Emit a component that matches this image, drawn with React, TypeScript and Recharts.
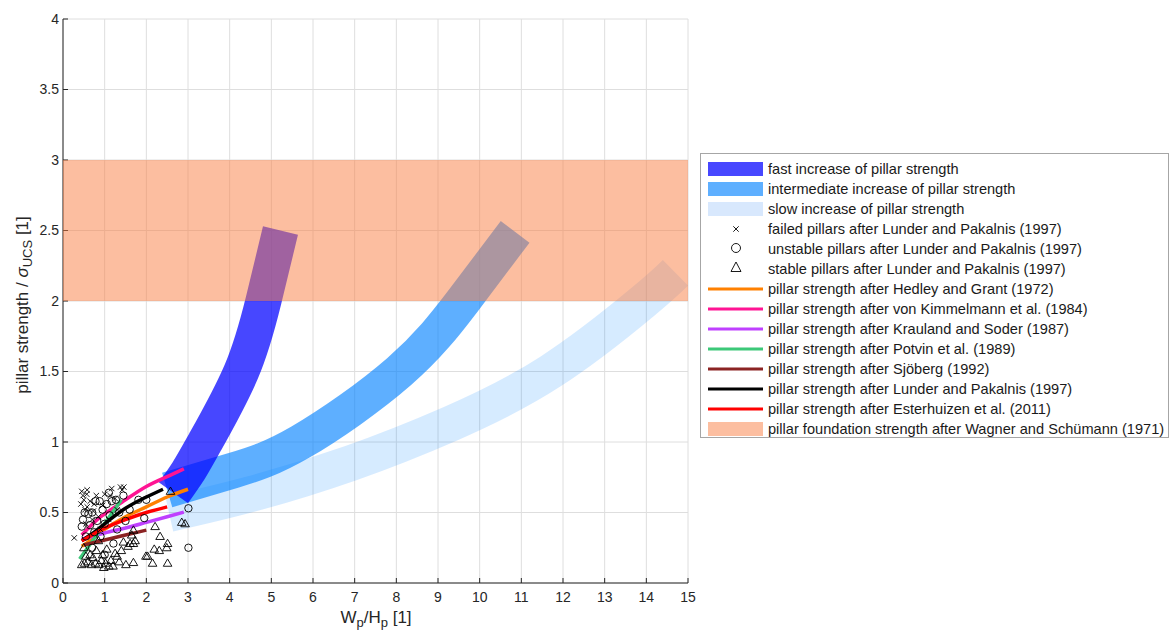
import {
  ComposedChart,
  Line,
  Scatter,
  XAxis,
  YAxis,
  CartesianGrid,
  ReferenceArea,
} from "recharts";

type Pt = { x: number; y: number };

const FONT = "'Liberation Sans', Arial, Helvetica, sans-serif";
const AX = "#262626";

const xTicks = [0, 1, 2, 3, 4, 5, 6, 7, 8, 9, 10, 11, 12, 13, 14, 15];
const yTicks = [0, 0.5, 1, 1.5, 2, 2.5, 3, 3.5, 4];

// wide bands (centre lines)
const fastBand: Pt[] = [
  { x: 2.65, y: 0.64 }, { x: 3.0, y: 0.79 }, { x: 3.41, y: 1.0 },
  { x: 4.28, y: 1.5 }, { x: 4.81, y: 2.0 }, { x: 5.22, y: 2.5 },
];
const midBand: Pt[] = [
  { x: 2.5, y: 0.66 }, { x: 4.1, y: 0.8 }, { x: 5.7, y: 1.0 },
  { x: 8.07, y: 1.5 }, { x: 9.6, y: 2.0 }, { x: 10.85, y: 2.49 },
];
const slowBand: Pt[] = [
  { x: 2.55, y: 0.49 }, { x: 4.5, y: 0.63 }, { x: 6.9, y: 0.85 }, { x: 9.3, y: 1.13 },
  { x: 11.7, y: 1.5 }, { x: 13.9, y: 1.99 }, { x: 14.7, y: 2.2 },
];

// empirical pillar strength formulas
const hedleyGrant: Pt[] = [
  { x: 0.45, y: 0.26 }, { x: 0.75, y: 0.32 }, { x: 1.0, y: 0.38 }, { x: 1.5, y: 0.47 },
  { x: 2.0, y: 0.54 }, { x: 2.5, y: 0.61 }, { x: 3.0, y: 0.665 },
];
const kimmelmann: Pt[] = [
  { x: 0.45, y: 0.34 }, { x: 0.75, y: 0.43 }, { x: 1.0, y: 0.49 }, { x: 1.5, y: 0.59 },
  { x: 2.0, y: 0.685 }, { x: 2.5, y: 0.755 }, { x: 2.9, y: 0.81 },
];
const krauland: Pt[] = [
  { x: 0.45, y: 0.31 }, { x: 1.0, y: 0.355 }, { x: 1.5, y: 0.39 }, { x: 2.0, y: 0.43 },
  { x: 2.5, y: 0.47 }, { x: 2.9, y: 0.503 },
];
const potvin: Pt[] = [{ x: 0.4, y: 0.17 }, { x: 0.9, y: 0.38 }, { x: 1.4, y: 0.59 }];
const sjoberg: Pt[] = [
  { x: 0.5, y: 0.27 }, { x: 1.0, y: 0.305 }, { x: 1.5, y: 0.34 }, { x: 2.0, y: 0.375 },
];
const lunder: Pt[] = [
  { x: 0.45, y: 0.3 }, { x: 0.75, y: 0.36 }, { x: 1.0, y: 0.42 }, { x: 1.5, y: 0.53 },
  { x: 2.0, y: 0.61 }, { x: 2.4, y: 0.665 },
];
const esterhuizen: Pt[] = [
  { x: 0.45, y: 0.3 }, { x: 0.75, y: 0.35 }, { x: 1.0, y: 0.39 }, { x: 1.5, y: 0.45 },
  { x: 2.0, y: 0.5 }, { x: 2.5, y: 0.54 },
];

// Lunder and Pakalnis (1997) case histories
const failed: Pt[] = [
  { x: 0.45, y: 0.65 }, { x: 0.58, y: 0.66 }, { x: 0.48, y: 0.62 }, { x: 0.57, y: 0.63 },
  { x: 0.43, y: 0.56 }, { x: 0.5, y: 0.59 }, { x: 0.58, y: 0.54 }, { x: 0.53, y: 0.52 },
  { x: 0.65, y: 0.58 }, { x: 0.73, y: 0.51 }, { x: 1.13, y: 0.62 }, { x: 1.17, y: 0.67 },
  { x: 1.38, y: 0.68 }, { x: 1.46, y: 0.68 }, { x: 1.42, y: 0.66 }, { x: 0.27, y: 0.32 },
  { x: 0.85, y: 0.47 }, { x: 0.95, y: 0.55 }, { x: 1.25, y: 0.6 }, { x: 0.7, y: 0.45 },
  { x: 0.9, y: 0.38 }, { x: 0.8, y: 0.62 }, { x: 1.0, y: 0.63 }, { x: 1.3, y: 0.52 },
  { x: 0.75, y: 0.56 }, { x: 1.1, y: 0.45 }, { x: 0.55, y: 0.42 },
];
const unstable: Pt[] = [
  { x: 0.78, y: 0.58 }, { x: 0.88, y: 0.58 }, { x: 0.61, y: 0.49 }, { x: 0.45, y: 0.4 },
  { x: 0.48, y: 0.45 }, { x: 1.17, y: 0.58 }, { x: 1.27, y: 0.59 }, { x: 1.95, y: 0.46 },
  { x: 3.01, y: 0.53 }, { x: 3.01, y: 0.25 }, { x: 1.21, y: 0.28 }, { x: 1.81, y: 0.59 },
  { x: 2.0, y: 0.59 }, { x: 0.7, y: 0.5 }, { x: 0.95, y: 0.52 }, { x: 1.05, y: 0.56 },
  { x: 0.65, y: 0.41 }, { x: 0.82, y: 0.44 }, { x: 1.0, y: 0.42 }, { x: 1.12, y: 0.48 },
  { x: 1.35, y: 0.5 }, { x: 1.5, y: 0.44 }, { x: 0.9, y: 0.33 }, { x: 0.75, y: 0.36 },
  { x: 1.3, y: 0.38 }, { x: 1.6, y: 0.52 }, { x: 0.55, y: 0.33 }, { x: 1.0, y: 0.2 },
  { x: 0.7, y: 0.25 }, { x: 1.45, y: 0.62 }, { x: 1.1, y: 0.64 }, { x: 0.52, y: 0.5 },
];
const stable: Pt[] = [
  { x: 2.21, y: 0.4 }, { x: 2.33, y: 0.33 }, { x: 2.51, y: 0.28 }, { x: 2.49, y: 0.25 },
  { x: 2.19, y: 0.24 }, { x: 2.31, y: 0.23 }, { x: 1.99, y: 0.19 }, { x: 2.15, y: 0.14 },
  { x: 2.51, y: 0.14 }, { x: 1.51, y: 0.13 }, { x: 1.69, y: 0.145 }, { x: 2.85, y: 0.43 },
  { x: 2.93, y: 0.42 }, { x: 2.58, y: 0.65 }, { x: 1.69, y: 0.28 }, { x: 1.45, y: 0.29 },
  { x: 1.25, y: 0.21 }, { x: 1.3, y: 0.19 }, { x: 1.02, y: 0.14 }, { x: 1.1, y: 0.12 },
  { x: 0.45, y: 0.13 }, { x: 0.52, y: 0.14 }, { x: 0.6, y: 0.15 }, { x: 0.68, y: 0.13 },
  { x: 0.78, y: 0.14 }, { x: 0.86, y: 0.13 }, { x: 0.55, y: 0.19 }, { x: 0.65, y: 0.2 },
  { x: 0.8, y: 0.23 }, { x: 0.72, y: 0.18 }, { x: 0.95, y: 0.2 }, { x: 1.05, y: 0.24 },
  { x: 0.92, y: 0.16 }, { x: 1.15, y: 0.16 }, { x: 1.69, y: 0.375 }, { x: 1.65, y: 0.34 },
  { x: 1.73, y: 0.3 }, { x: 1.56, y: 0.26 }, { x: 1.61, y: 0.28 }, { x: 1.4, y: 0.23 },
  { x: 0.5, y: 0.25 }, { x: 0.85, y: 0.3 }, { x: 1.2, y: 0.12 }, { x: 1.35, y: 0.15 },
  { x: 0.98, y: 0.11 }, { x: 2.03, y: 0.19 },
];

const BAND_W = 36;

const CrossShape = (p: any) => {
  const { cx, cy } = p;
  const s = 2.7;
  return (
    <path
      d={`M${cx - s},${cy - s}L${cx + s},${cy + s}M${cx - s},${cy + s}L${cx + s},${cy - s}`}
      stroke="#000"
      strokeWidth={0.9}
      fill="none"
    />
  );
};
const CircleShape = (p: any) => (
  <circle cx={p.cx} cy={p.cy} r={3.7} stroke="#000" strokeWidth={0.9} fill="none" />
);
const TriShape = (p: any) => {
  const { cx, cy } = p;
  return (
    <path
      d={`M${cx},${cy - 4.3}L${cx + 4.3},${cy + 3}L${cx - 4.3},${cy + 3}Z`}
      stroke="#000"
      strokeWidth={0.9}
      fill="none"
    />
  );
};

const YTitle = () => (
  <text
    transform="rotate(-90)"
    x={-305}
    y={28}
    textAnchor="middle"
    fontSize={17}
    fill={AX}
    fontFamily={FONT}
  >
    pillar strength /{" "}
    <tspan fontStyle="italic">σ</tspan>
    <tspan dy={4} fontSize={13}>UCS</tspan>
    <tspan dy={-4}> [1]</tspan>
  </text>
);

const XTitle = () => (
  <text x={376} y={623} textAnchor="middle" fontSize={17} fill={AX} fontFamily={FONT}>
    W<tspan dy={4} fontSize={13}>p</tspan>
    <tspan dy={-4}>/H</tspan>
    <tspan dy={4} fontSize={13}>p</tspan>
    <tspan dy={-4}> [1]</tspan>
  </text>
);

type LegendItem = { label: string; kind: "patch" | "line" | "x" | "o" | "tri"; color: string };

const legendItems: LegendItem[] = [
  { label: "fast increase of pillar strength", kind: "patch", color: "#4747ff" },
  { label: "intermediate increase of pillar strength", kind: "patch", color: "#5eafff" },
  { label: "slow increase of pillar strength", kind: "patch", color: "#d8e8fd" },
  { label: "failed pillars after Lunder and Pakalnis (1997)", kind: "x", color: "#000" },
  { label: "unstable pillars after Lunder and Pakalnis (1997)", kind: "o", color: "#000" },
  { label: "stable pillars after Lunder and Pakalnis (1997)", kind: "tri", color: "#000" },
  { label: "pillar strength after Hedley and Grant (1972)", kind: "line", color: "#ff8000" },
  { label: "pillar strength after von Kimmelmann et al. (1984)", kind: "line", color: "#ff1493" },
  { label: "pillar strength after Krauland and Soder (1987)", kind: "line", color: "#bf40ff" },
  { label: "pillar strength after Potvin et al. (1989)", kind: "line", color: "#3cc878" },
  { label: "pillar strength after Sjöberg (1992)", kind: "line", color: "#8b2323" },
  { label: "pillar strength after Lunder and Pakalnis (1997)", kind: "line", color: "#000000" },
  { label: "pillar strength after Esterhuizen et al. (2011)", kind: "line", color: "#ff0000" },
  { label: "pillar foundation strength after Wagner and Schümann (1971)", kind: "patch", color: "#fcbea0" },
];

function LegendSymbol({ item }: { item: LegendItem }) {
  return (
    <svg width={56} height={16} style={{ display: "block", flex: "none" }}>
      {item.kind === "patch" && <rect x={0} y={1} width={55} height={14} fill={item.color} />}
      {item.kind === "line" && <line x1={0} x2={55} y1={8} y2={8} stroke={item.color} strokeWidth={3} />}
      {item.kind === "x" && <CrossShape cx={28} cy={8} />}
      {item.kind === "o" && <circle cx={28} cy={7} r={4.5} stroke="#000" strokeWidth={0.9} fill="none" />}
      {item.kind === "tri" && (
        <path d="M28,1L33,10.5L23,10.5Z" stroke="#000" strokeWidth={0.9} fill="none" />
      )}
    </svg>
  );
}

function ChartLegend() {
  return (
    <div
      style={{
        position: "absolute",
        left: 700,
        top: 153,
        width: 467,
        height: 278,
        border: "1px solid #a6a6a6",
        background: "#fff",
        paddingTop: 5,
        boxSizing: "content-box",
        fontFamily: FONT,
        fontSize: 14.6,
        lineHeight: "20px",
        color: "#1a1a1a",
      }}
    >
      {legendItems.map((it) => (
        <div key={it.label} style={{ display: "flex", alignItems: "center", height: 20 }}>
          <div style={{ width: 7, flex: "none" }} />
          <LegendSymbol item={it} />
          <div style={{ marginLeft: 4, whiteSpace: "nowrap" }}>{it.label}</div>
        </div>
      ))}
    </div>
  );
}

const bands = [
  { key: "slow", data: slowBand, color: "#0080ff", opacity: 0.16 },
  { key: "mid", data: midBand, color: "#0080ff", opacity: 0.63 },
  { key: "fast", data: fastBand, color: "#0000ff", opacity: 0.72 },
];

const formulas = [
  { key: "hg", data: hedleyGrant, color: "#ff8000" },
  { key: "vk", data: kimmelmann, color: "#ff1493" },
  { key: "ks", data: krauland, color: "#bf40ff" },
  { key: "po", data: potvin, color: "#3cc878" },
  { key: "sj", data: sjoberg, color: "#8b2323" },
  { key: "lp", data: lunder, color: "#000000" },
  { key: "es", data: esterhuizen, color: "#ff0000" },
];

export default function App() {
  return (
    <div style={{ position: "absolute", left: 0, top: 0, width: 1169, height: 633, background: "#fff" }}>
      <ComposedChart
        width={1169}
        height={633}
        margin={{ top: 19, right: 481, bottom: 0, left: 0 }}
        style={{ fontFamily: FONT }}
      >
        <CartesianGrid stroke="#dedede" strokeWidth={1} />
        <XAxis
          type="number"
          dataKey="x"
          domain={[0, 15]}
          ticks={xTicks}
          interval={0}
          height={50}
          tickSize={-5}
          tickMargin={14}
          stroke={AX}
          tick={{ fill: AX, fontSize: 14, fontFamily: FONT }}
          label={<XTitle />}
          allowDataOverflow
        />
        <YAxis
          type="number"
          dataKey="y"
          domain={[0, 4]}
          ticks={yTicks}
          interval={0}
          width={63}
          tickSize={-5}
          tickMargin={9}
          stroke={AX}
          tick={{ fill: AX, fontSize: 14, fontFamily: FONT }}
          label={<YTitle />}
          allowDataOverflow
        />
        {bands.map((b) => (
          <Line
            key={b.key}
            data={b.data}
            dataKey="y"
            type="natural"
            stroke={b.color}
            strokeOpacity={b.opacity}
            strokeWidth={BAND_W}
            strokeLinecap="butt"
            strokeLinejoin="round"
            dot={false}
            activeDot={false}
            isAnimationActive={false}
          />
        ))}
        {formulas.map((f) => (
          <Line
            key={f.key}
            data={f.data}
            dataKey="y"
            type="natural"
            stroke={f.color}
            strokeWidth={3.5}
            dot={false}
            activeDot={false}
            isAnimationActive={false}
          />
        ))}
        <Scatter data={stable} shape={TriShape} isAnimationActive={false} />
        <Scatter data={unstable} shape={CircleShape} isAnimationActive={false} />
        <Scatter data={failed} shape={CrossShape} isAnimationActive={false} />
        <ReferenceArea
          x1={0}
          x2={15}
          y1={2}
          y2={3}
          fill="#f97d41"
          fillOpacity={0.5}
          stroke="none"
          zIndex={700}
        />
      </ComposedChart>
      <ChartLegend />
    </div>
  );
}
